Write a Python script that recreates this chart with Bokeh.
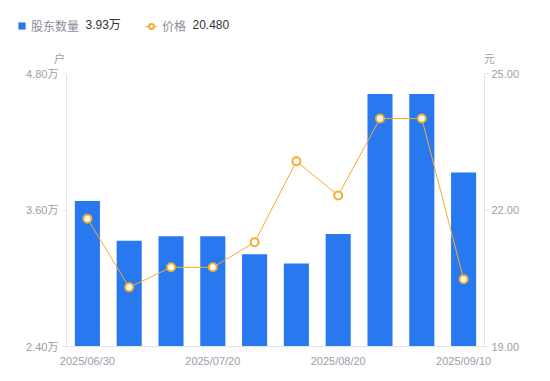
from bokeh.plotting import figure
from bokeh.models import (Range1d, LinearAxis, FixedTicker, CustomJSTickFormatter,
                          Label, Legend, LegendItem, ColumnDataSource)
from bokeh.embed import file_html
from bokeh.resources import INLINE

dates = ["2025/06/30", "2025/07/04", "2025/07/10", "2025/07/20", "2025/07/31",
         "2025/08/10", "2025/08/20", "2025/08/31", "2025/09/05", "2025/09/10"]
holders = [3.68, 3.33, 3.37, 3.37, 3.21, 3.13, 3.39, 4.62, 4.62, 3.93]   # 万户
price = [21.81, 20.30, 20.74, 20.74, 21.29, 23.07, 22.32, 24.01, 24.01, 20.48]
left_ticks = [2.40, 3.60, 4.80]
right_ticks = [19.00, 22.00, 25.00]
shown_dates = [0, 3, 6, 9]

BLUE = "#2878f0"
ORANGE = "#f5ab2e"
GRAY = "#9d9dab"
AXIS = "#e3e3e8"
FONT = "Liberation Sans, Noto Sans CJK SC"

W, H = 550, 381
L, R, T, B = 66, 484, 73, 346          # plot-area box in pixels
n = len(dates)
xpx = (R - L) / n
x0, x1 = -0.5 - L / xpx, n - 0.5 + (W - R) / xpx
lo, hi = left_ticks[0], left_ticks[-1]
ypx = (B - T) / (hi - lo)
y0, y1 = lo - (H - B) / ypx, hi + T / ypx
plo, phi = right_ticks[0], right_ticks[-1]
ppx = (B - T) / (phi - plo)
p0, p1 = plo - (H - B) / ppx, phi + T / ppx

x = list(range(n))
src = ColumnDataSource(dict(x=x, holders=holders, price=price))

p = figure(width=W, height=H, output_backend="svg", toolbar_location=None,
           x_range=Range1d(x0, x1), y_range=Range1d(y0, y1),
           min_border=0, x_axis_location=None, y_axis_location=None)
p.outline_line_color = None
p.grid.visible = False
p.extra_y_ranges = {"price": Range1d(p0, p1)}

bars = p.vbar(x="x", top="holders", bottom=lo, width=0.6, source=src,
              fill_color=BLUE, line_color=None)
ln = p.line(x="x", y="price", source=src, y_range_name="price",
            line_color=ORANGE, line_width=1)
pts = p.scatter(x="x", y="price", source=src, y_range_name="price", size=8,
                fill_color="white", line_color=ORANGE, line_width=2)

def style(ax):
    ax.axis_line_color = AXIS
    ax.major_tick_line_color = AXIS
    ax.major_tick_out = 4
    ax.major_tick_in = 0
    ax.minor_tick_line_color = None
    ax.major_label_text_color = GRAY
    ax.major_label_text_font = FONT
    ax.major_label_text_font_size = "11px"
    ax.major_label_standoff = 4

xa = LinearAxis(ticker=FixedTicker(ticks=shown_dates), fixed_location=lo,
                bounds=(-0.5, n - 0.5))
style(xa)
xa.major_tick_line_color = None
xa.major_label_overrides = {i: dates[i] for i in shown_dates}
p.add_layout(xa, "below")

ya = LinearAxis(ticker=FixedTicker(ticks=left_ticks), fixed_location=-0.5,
                bounds=(lo, hi),
                formatter=CustomJSTickFormatter(code="return tick.toFixed(2) + '万';"))
style(ya)
p.add_layout(ya, "left")

ra = LinearAxis(y_range_name="price", ticker=FixedTicker(ticks=right_ticks),
                fixed_location=n - 0.5, bounds=(plo, phi),
                formatter=CustomJSTickFormatter(code="return tick.toFixed(2);"))
style(ra)
ra.major_label_standoff = 3
p.add_layout(ra, "right")

# unit labels
p.add_layout(Label(x=-0.5, y=hi, x_offset=-7, y_offset=9, text="户",
                   text_color=GRAY, text_font=FONT, text_font_size="11px",
                   text_align="center", text_baseline="bottom"))
p.add_layout(Label(x=n - 0.5, y=hi, x_offset=5, y_offset=9, text="元",
                   text_color=GRAY, text_font=FONT, text_font_size="11px",
                   text_align="center", text_baseline="bottom"))

def mk_legend(items, loc, gw, gh):
    lg = Legend(items=items, location=loc, orientation="horizontal",
                glyph_width=gw, glyph_height=gh, label_standoff=5,
                padding=0, margin=0, border_line_alpha=0, background_fill_alpha=0,
                label_text_color="#8c8c9a", label_text_font=FONT,
                label_text_font_size="12px", label_height=12)
    p.add_layout(lg, "center")
    return lg

mk_legend([LegendItem(label="股东数量", renderers=[bars])], (17, 347), 9, 9)
mk_legend([LegendItem(label="价格", renderers=[ln, pts])], (145, 347), 12, 12)

p.add_layout(Label(x=-0.5, y=hi, x_offset=19, y_offset=49, text="3.93万",
                   text_color="#333333", text_font=FONT, text_font_size="12px",
                   text_baseline="middle"))
p.add_layout(Label(x=-0.5, y=hi, x_offset=126, y_offset=49, text="20.480",
                   text_color="#333333", text_font=FONT, text_font_size="12px",
                   text_baseline="middle"))

open("out.html", "w").write(file_html(p, INLINE))
